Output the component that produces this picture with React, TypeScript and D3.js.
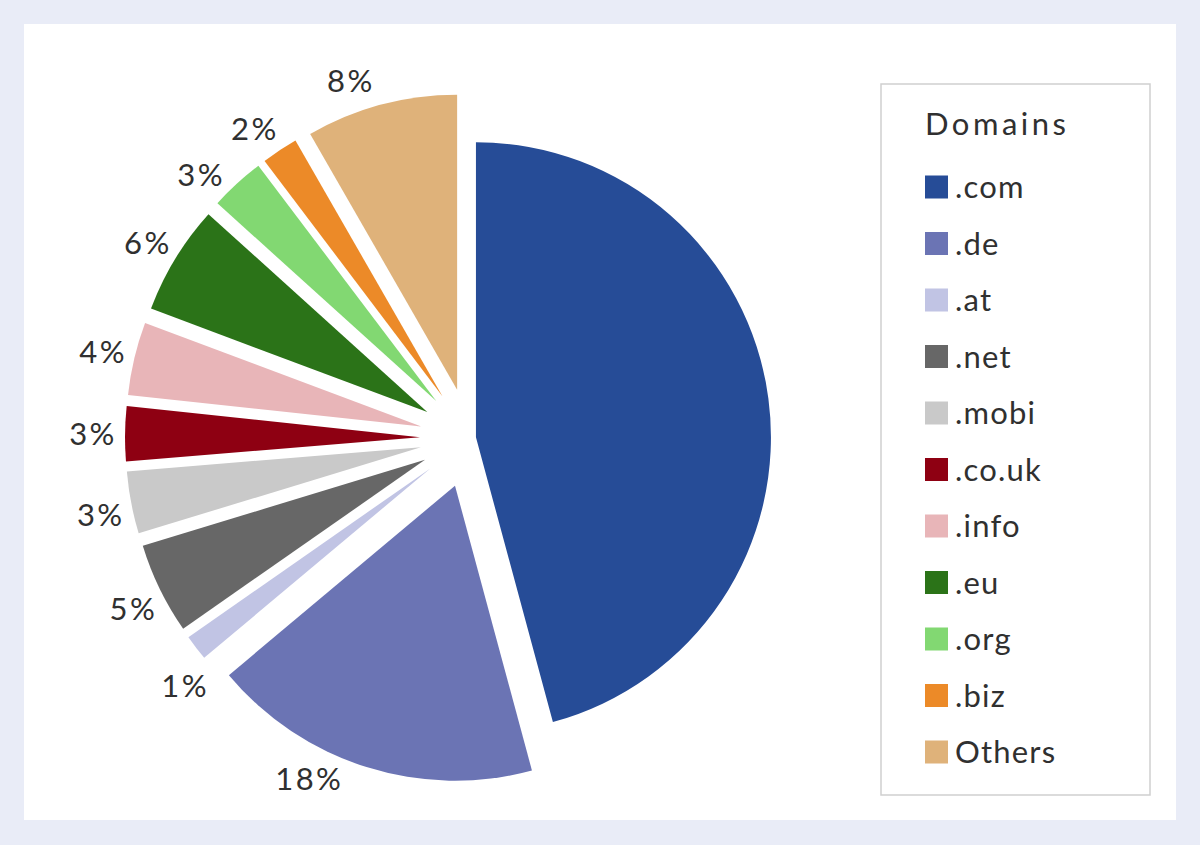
import React from "react"
import * as d3 from "d3"

// domain share, clockwise from 12 o'clock
const domains = [".com", ".de", ".at", ".net", ".mobi", ".co.uk", ".info", ".eu", ".org", ".biz", "Others"]
const shares = [45.8, 18.1, 1.4, 5.0, 3.4, 3.0, 4.0, 6.0, 3.0, 2.0, 8.3]
const showLabel = [false, true, true, true, true, true, true, true, true, true, true]
const colors = [
  "#264c97",
  "#6b74b4",
  "#c1c4e4",
  "#676767",
  "#c9c9c9",
  "#8e0012",
  "#e8b5b8",
  "#2b7318",
  "#82d872",
  "#ec8a28",
  "#dfb27a",
]

const W = 1200
const H = 845
const cx = 470
const cy = 438
const radius = 295
const textColor = "#303030"
const font = "Lato, 'Open Sans', sans-serif"

// small angular shifts (degrees) the original applied to crowded labels
const labelNudge = [0, 9, -4, -1, -1, 0, 0, 0, -3.5, -1.5, -4]

export default function App() {
  const data = domains.map((d, i) => ({ name: d, value: shares[i], color: colors[i], label: showLabel[i] }))

  const pie = d3
    .pie<any>()
    .sort(null)
    .value(d => d.value)
    .startAngle(0)
    .endAngle(2 * Math.PI)
  const arcs = pie(data)

  const arc = d3.arc<any>().innerRadius(0).outerRadius(radius)

  // .com stays almost in place, the rest is pulled out
  const explode = (i: number) => (i === 0 ? 6 : 50)

  const legendY = d3.scalePoint<string>().domain(domains).range([187, 752])

  return (
    <div style={{ position: "absolute", left: 0, top: 0 }}>
      <svg width={W} height={H} style={{ display: "block" }}>
        <rect x={0} y={0} width={W} height={H} fill="#e9ecf7" />
        <rect x={24} y={24} width={1152} height={796} fill="#ffffff" />

        <g transform={`translate(${cx},${cy})`}>
          {arcs.map((a, i) => {
            const mid = (a.startAngle + a.endAngle) / 2
            const dx = Math.sin(mid) * explode(i)
            const dy = -Math.cos(mid) * explode(i)
            const lr = radius + 32
            const la = mid + (labelNudge[i] * Math.PI) / 180
            return (
              <g key={a.data.name} transform={`translate(${dx},${dy})`}>
                <path d={arc(a) as string} fill={a.data.color} />
                {a.data.label && (
                  <text
                    x={Math.sin(la) * lr}
                    y={-Math.cos(la) * lr}
                    textAnchor="middle"
                    dominantBaseline="central"
                    fontFamily={font}
                    fontSize={31}
                    letterSpacing={2.5}
                    fill={textColor}
                  >
                    {Math.round(a.data.value) + "%"}
                  </text>
                )}
              </g>
            )
          })}
        </g>

        <g>
          <rect x={881} y={84} width={269} height={711} fill="#fff" stroke="#cfcfcf" strokeWidth={1.5} />
          <text x={925} y={135} fontFamily={font} fontSize={31} fill={textColor} letterSpacing={3.5}>
            Domains
          </text>
          {data.map(d => {
            const y = legendY(d.name) as number
            return (
              <g key={d.name}>
                <rect x={925} y={y - 11.5} width={23} height={23} fill={d.color} />
                <text x={955} y={y + 11} fontFamily={font} fontSize={31} fill={textColor} letterSpacing={1.2}>
                  {d.name}
                </text>
              </g>
            )
          })}
        </g>
      </svg>
    </div>
  )
}
